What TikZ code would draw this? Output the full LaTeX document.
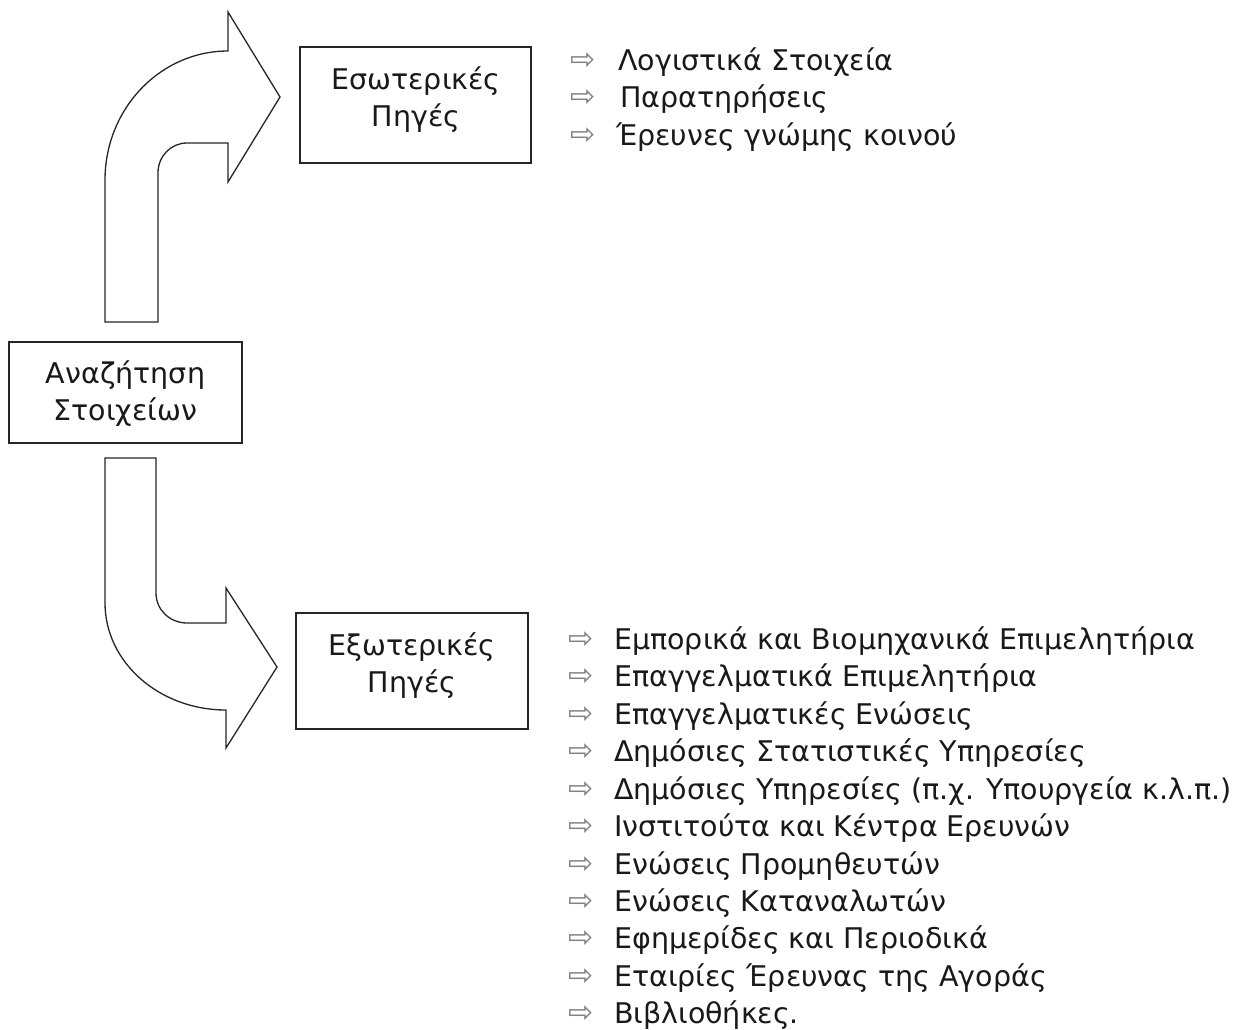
\documentclass[tikz,border=0pt]{standalone}
\usepackage{fontspec}
\setmainfont{DejaVu Sans}
\newfontfamily\arrowfont{DejaVu Sans}
\begin{document}
\begin{tikzpicture}[x=1pt,y=-1pt,
  boxstyle/.style={draw=black!85, line width=1.4pt, inner sep=0pt},
  boxtext/.style={align=center, inner sep=0pt,
    font=\fontsize{28.5}{37}\selectfont, text=black!90},
  blockarrow/.style={draw=black!85, line width=1.3pt, line join=miter},
  itemtext/.style={anchor=west, inner sep=0pt, font=\fontsize{28.5}{33}\selectfont, text=black!90},
  bulletsym/.style={inner sep=0pt, font=\arrowfont\fontsize{30}{30}\selectfont, text=black!50}
]
\useasboundingbox (0,0) rectangle (1256,1030);
\fill[white] (0,0) rectangle (1256,1030);

% block arrows
\draw[blockarrow] (105,322) -- (105,180) .. controls (105,109) and (160,51) .. (228,51)
  -- (228,12) -- (280,97) -- (228,182) -- (228,143) -- (187,143)
  .. controls (171,143) and (158,156) .. (158,173) -- (158,322) -- cycle;
\draw[blockarrow] (105,458) -- (156,458) -- (156,593)
  .. controls (156,610) and (170,623) .. (187,623) -- (226,623) -- (226,588)
  -- (277,667) -- (226,748) -- (226,710)
  .. controls (159,710) and (105,662) .. (105,603) -- cycle;

% boxes
\node[boxstyle, minimum width=233pt, minimum height=101pt] (search) at (125.5,392.5) {};
\node[boxtext] (searchtxt) at (125.5,394) {Αναζήτηση\\Στοιχείων};
\node[boxstyle, minimum width=231pt, minimum height=116pt] (internal) at (415.5,105) {};
\node[boxtext] (internaltxt) at (416,100) {Εσωτερικές\\Πηγές};
\node[boxstyle, minimum width=232pt, minimum height=116pt] (external) at (412,671) {};
\node[boxtext] (externaltxt) at (412,666) {Εξωτερικές\\Πηγές};

% internal list
\node[bulletsym] (ib1) at (583,61) {⇨};
\node[itemtext] (i1) at (618,62) {Λογιστικά Στοιχεία};
\node[bulletsym] (ib2) at (583,98) {⇨};
\node[itemtext] (i2) at (620,99) {Παρατηρήσεις};
\node[bulletsym] (ib3) at (583,136) {⇨};
\node[itemtext] (i3) at (616,137) {Έρευνες γνώμης κοινού};

% external list
\node[bulletsym] (eb1) at (581,640) {⇨};
\node[itemtext] (e1) at (614,641) {Εμπορικά και Βιομηχανικά Επιμελητήρια};
\node[bulletsym] (eb2) at (581,677) {⇨};
\node[itemtext] (e2) at (614,678) {Επαγγελματικά Επιμελητήρια};
\node[bulletsym] (eb3) at (581,715) {⇨};
\node[itemtext] (e3) at (614,716) {Επαγγελματικές Ενώσεις};
\node[bulletsym] (eb4) at (581,752) {⇨};
\node[itemtext] (e4) at (614,753) {Δημόσιες Στατιστικές Υπηρεσίες};
\node[bulletsym] (eb5) at (581,790) {⇨};
\node[itemtext] (e5) at (614,791) {Δημόσιες Υπηρεσίες (π.χ. Υπουργεία κ.λ.π.)};
\node[bulletsym] (eb6) at (581,827) {⇨};
\node[itemtext] (e6) at (614,828) {Ινστιτούτα και Κέντρα Ερευνών};
\node[bulletsym] (eb7) at (581,865) {⇨};
\node[itemtext] (e7) at (614,866) {Ενώσεις Προμηθευτών};
\node[bulletsym] (eb8) at (581,902) {⇨};
\node[itemtext] (e8) at (614,903) {Ενώσεις Καταναλωτών};
\node[bulletsym] (eb9) at (581,939) {⇨};
\node[itemtext] (e9) at (614,940) {Εφημερίδες και Περιοδικά};
\node[bulletsym] (eb10) at (581,977) {⇨};
\node[itemtext] (e10) at (614,978) {Εταιρίες Έρευνας της Αγοράς};
\node[bulletsym] (eb11) at (581,1014) {⇨};
\node[itemtext] (e11) at (614,1015) {Βιβλιοθήκες.};
\end{tikzpicture}
\end{document}
